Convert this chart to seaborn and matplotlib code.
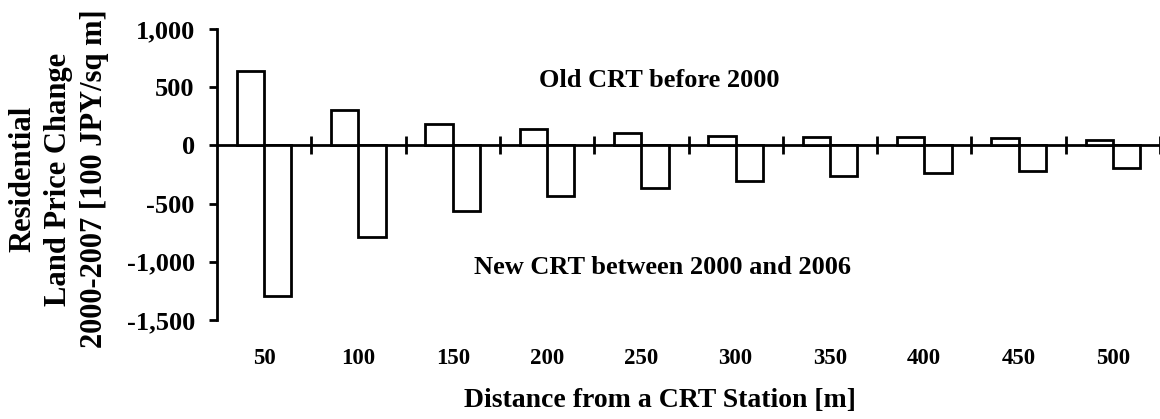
import numpy as np
import pandas as pd
import matplotlib
matplotlib.use("Agg")
import matplotlib.pyplot as plt
from matplotlib.ticker import FuncFormatter, NullFormatter
import seaborn as sns

# Distance bands from a CRT station [m]
distances = ["50", "100", "150", "200", "250", "300", "350", "400", "450", "500"]
# Residential land price change 2000-2007 [100 JPY/sq m]
old_crt = [640, 300, 185, 140, 105, 85, 75, 75, 60, 50]
new_crt = [-1290, -790, -560, -435, -365, -305, -265, -240, -220, -190]
series_names = ["Old CRT before 2000", "New CRT between 2000 and 2006"]
y_ticks = [-1500, -1000, -500, 0, 500, 1000]

df = pd.DataFrame({
    "distance": distances * 2,
    "change": old_crt + new_crt,
    "period": [series_names[0]] * len(distances) + [series_names[1]] * len(distances),
})

sns.set_style("ticks")
plt.rcParams["font.family"] = ["Liberation Serif", "DejaVu Serif"]
plt.rcParams["font.weight"] = "bold"

fig = plt.figure(figsize=(11.6, 4.19), dpi=100)
ax = fig.add_axes([217 / 1160, 1 - 320 / 419, 943 / 1160, 291 / 419])

LW = 2.0

sns.barplot(
    data=df, x="distance", y="change", hue="period",
    order=distances, hue_order=series_names,
    palette=["white", "white"], edgecolor="black", linewidth=LW,
    width=0.58, errorbar=None, legend=False, ax=ax,
)

ax.set_xlim(-0.5, len(distances) - 0.5)
ax.set_ylim(y_ticks[0], y_ticks[-1])

# y axis
ax.set_yticks(y_ticks)
ax.yaxis.set_major_formatter(FuncFormatter(lambda v, p: f"{v:,.0f}"))
ax.tick_params(axis="y", direction="out", length=6, width=LW,
               labelsize=19, pad=10, color="black", labelcolor="black")
for lab in ax.get_yticklabels():
    lab.set_fontweight("bold")
ax.spines["left"].set_linewidth(LW)
ax.spines["left"].set_color("black")

# category labels along the bottom, axis line hidden there
ax.spines["bottom"].set_visible(False)
ax.spines["top"].set_visible(False)
ax.spines["right"].set_visible(False)
ax.tick_params(axis="x", length=0, labelsize=16.5, pad=20, labelcolor="black")
for lab in ax.get_xticklabels():
    lab.set_fontweight("bold")

# zero line with separators between distance bands
plt.rcParams["xtick.direction"] = "inout"
frac0 = (0 - y_ticks[0]) / (y_ticks[-1] - y_ticks[0])
sec = ax.secondary_xaxis(frac0)
sec.set_xticks(np.arange(0.5, len(distances), 1.0))
sec.xaxis.set_major_formatter(NullFormatter())
sec.tick_params(axis="x", which="both", direction="inout", length=13, width=LW,
                labelbottom=False, labeltop=False, color="black")
for side in ("top", "bottom"):
    sec.spines[side].set_linewidth(LW)
    sec.spines[side].set_color("black")

ax.set_xlabel("Distance from a CRT Station [m]", fontsize=20, fontweight="bold",
              va="center", color="black")
ax.xaxis.set_label_coords(0.47, -0.275)
ax.set_ylabel("Residential\nLand Price Change\n2000-2007 [100 JPY/sq m]",
              fontsize=22, fontweight="bold", va="center", ha="center",
              multialignment="center", color="black", linespacing=1.3)
ax.yaxis.set_label_coords(-0.168, 0.4845)

ax.text(4.19, 560, series_names[0], ha="center", va="center",
        fontsize=19, fontweight="bold", color="black")
ax.text(4.22, -1050, series_names[1], ha="center", va="center",
        fontsize=19, fontweight="bold", color="black")

fig.savefig("out.png", dpi=100)
